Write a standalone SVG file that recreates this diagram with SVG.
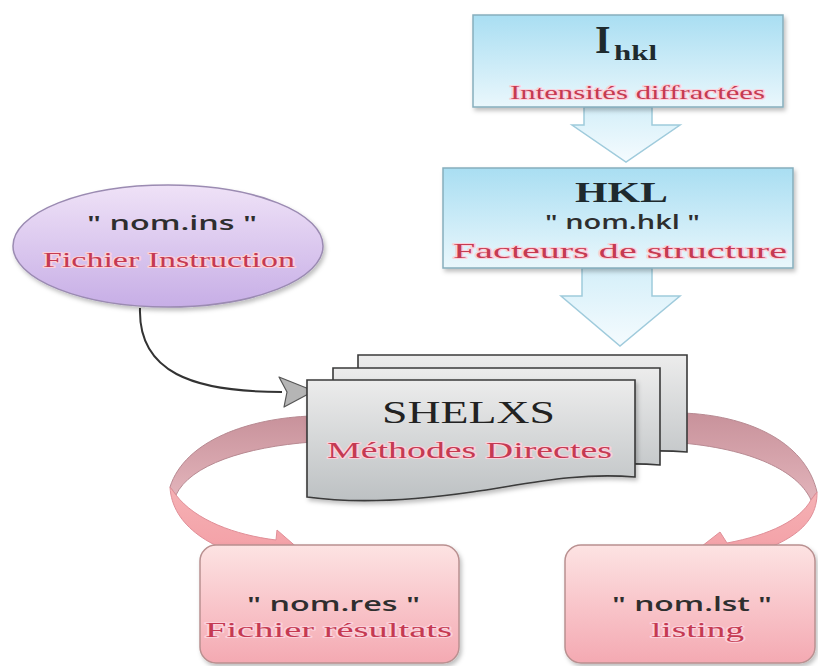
<svg xmlns="http://www.w3.org/2000/svg" width="818" height="666" viewBox="0 0 818 666">
<defs>
<style>
.sans{font-family:"Open Sans","Liberation Sans",sans-serif;fill:#2e2e2e;font-weight:600}
.serif{font-family:"Liberation Serif","DejaVu Serif",serif}
.red{fill:#c53a52;paint-order:stroke;stroke:#fbd0da;stroke-width:2.2;stroke-linejoin:round}
.dark{fill:#1e2a2e}
.bluebox{fill:url(#gBlue);stroke:#86aebd;stroke-width:1.5;filter:url(#sh)}
.bluearrow{fill:url(#gBlueArrow);stroke:#9fcbdc;stroke-width:1.5}
.doc{fill:url(#gDoc);stroke:#3a3a3a;stroke-width:1.6}
.pinkbox{fill:url(#gPink);stroke:#b99090;stroke-width:1.5;filter:url(#sh)}
.ribbonBack{fill:url(#gRibBack);stroke:#b88a92;stroke-width:1}
.ribbonFront{fill:url(#gRibFront);stroke:#e08f98;stroke-width:1}
</style>
<linearGradient id="gBlue" x1="0" y1="0" x2="0" y2="1"><stop offset="0" stop-color="#a9def2"/><stop offset="1" stop-color="#eaf7fc"/></linearGradient>
<linearGradient id="gBlueArrow" x1="0" y1="0" x2="0" y2="1"><stop offset="0" stop-color="#d4eff9"/><stop offset="1" stop-color="#f5fbfe"/></linearGradient>
<linearGradient id="gDoc" x1="0" y1="0" x2="0" y2="1"><stop offset="0" stop-color="#ececec"/><stop offset="1" stop-color="#bdc1c3"/></linearGradient>
<linearGradient id="gPink" x1="0" y1="0" x2="0" y2="1"><stop offset="0" stop-color="#fde3e3"/><stop offset="1" stop-color="#f4a9b2"/></linearGradient>
<linearGradient id="gEll" x1="0" y1="0" x2="0" y2="1"><stop offset="0" stop-color="#efe2f7"/><stop offset="1" stop-color="#c7aee6"/></linearGradient>
<linearGradient id="gRibBack" x1="0" y1="0" x2="0" y2="1"><stop offset="0" stop-color="#c8929b"/><stop offset="1" stop-color="#e2b3ba"/></linearGradient>
<linearGradient id="gRibFront" x1="0" y1="0" x2="0" y2="1"><stop offset="0" stop-color="#f5b1b4"/><stop offset="1" stop-color="#f39aa2"/></linearGradient>
<filter id="sh" x="-10%" y="-10%" width="130%" height="130%"><feDropShadow dx="2" dy="3" stdDeviation="2" flood-color="#000" flood-opacity="0.25"/></filter>
<marker id="arr" markerUnits="userSpaceOnUse" markerWidth="38" markerHeight="32" viewBox="0 0 38 32" refX="4" refY="16" orient="auto">
<path d="M1,1 L36,15 L6,31 L9,16 Z" fill="#b5b5b5" stroke="#555" stroke-width="1.2" stroke-linejoin="round"/>
</marker>
</defs>
<rect width="818" height="666" fill="#fff"/>

<g id="connectors">
<polygon class="bluearrow" points="584,107 652,107 652,125 680,125 626,162 572,125 584,125"/>
<polygon class="bluearrow" points="582,268 652,268 652,296 680,296 620,346 561,296 582,296"/>
<path d="M140,308 C138,372 192,392 282,392" fill="none" stroke="#333" stroke-width="2" marker-end="url(#arr)"/>
<path class="ribbonBack" d="M312,416 C250,418 185,440 170,487 L176,495 C190,465 245,447 312,442 Z"/>
<path class="ribbonFront" d="M170,487 C172,525 210,552 273,563 L277,577 L308,557 L277,530 L276,540 C235,535 195,520 176,495 Z"/>
<path class="ribbonBack" d="M682,413 C745,415 805,440 817,492 L811,500 C800,475 760,450 682,443 Z"/>
<path class="ribbonFront" d="M817,492 C818,530 780,548 723,562 L722,578 L688,557 L720,532 L727,543 C770,535 800,520 811,500 Z"/>
</g>

<g id="node-ihkl">
<rect class="bluebox" x="473" y="15" width="310" height="92"/>
<text class="serif dark" font-weight="bold"><tspan x="595" y="53" font-size="40">I</tspan><tspan x="614" y="60" font-size="20" textLength="43" lengthAdjust="spacingAndGlyphs">hkl</tspan></text>
<text class="serif red" x="510" y="99" font-size="18" textLength="255" lengthAdjust="spacingAndGlyphs">Intensités diffractées</text>
</g>

<g id="node-hkl">
<rect class="bluebox" x="443" y="168" width="350" height="100"/>
<text class="serif dark" x="575" y="202" font-size="30" font-weight="bold" textLength="93" lengthAdjust="spacingAndGlyphs">HKL</text>
<text class="sans" x="545" y="229" font-size="20" textLength="155" lengthAdjust="spacingAndGlyphs">" nom.hkl "</text>
<text class="serif red" x="453" y="258" font-size="22" textLength="334" lengthAdjust="spacingAndGlyphs">Facteurs de structure</text>
</g>

<g id="node-ins">
<ellipse cx="168" cy="246" rx="155" ry="61" fill="url(#gEll)" stroke="#9b8bb2" stroke-width="1.5" filter="url(#sh)"/>
<text class="sans" x="87" y="230" font-size="20" textLength="170" lengthAdjust="spacingAndGlyphs">" nom.ins "</text>
<text class="serif red" x="43" y="267" font-size="20" textLength="252" lengthAdjust="spacingAndGlyphs">Fichier Instruction</text>
</g>

<g id="node-shelxs">
<path class="doc" transform="translate(358,355)" d="M0,0 H329 V97 C270,92 220,104 165,112 C110,120 50,124 0,117 Z"/>
<path class="doc" transform="translate(333,368)" d="M0,0 H327 V97 C270,92 220,104 165,112 C110,120 50,124 0,117 Z"/>
<path class="doc" transform="translate(307,380)" d="M0,0 H328 V97 C270,92 220,104 165,112 C110,120 50,124 0,117 Z" filter="url(#sh)"/>
<text class="serif" fill="#222" x="382" y="423" font-size="32" textLength="173" lengthAdjust="spacingAndGlyphs">SHELXS</text>
<text class="serif red" x="327" y="458" font-size="24" textLength="285" lengthAdjust="spacingAndGlyphs">Méthodes Directes</text>
</g>

<g id="node-res">
<rect class="pinkbox" x="200" y="545" width="259" height="118" rx="16"/>
<text class="sans" x="247" y="611" font-size="20" textLength="173" lengthAdjust="spacingAndGlyphs">" nom.res "</text>
<text class="serif red" x="205" y="637" font-size="20" textLength="247" lengthAdjust="spacingAndGlyphs">Fichier résultats</text>
</g>

<g id="node-lst">
<rect class="pinkbox" x="565" y="545" width="250" height="118" rx="16"/>
<text class="sans" x="612" y="611" font-size="20" textLength="160" lengthAdjust="spacingAndGlyphs">" nom.lst "</text>
<text class="serif red" x="651" y="637" font-size="20" textLength="93" lengthAdjust="spacingAndGlyphs">listing</text>
</g>
</svg>
